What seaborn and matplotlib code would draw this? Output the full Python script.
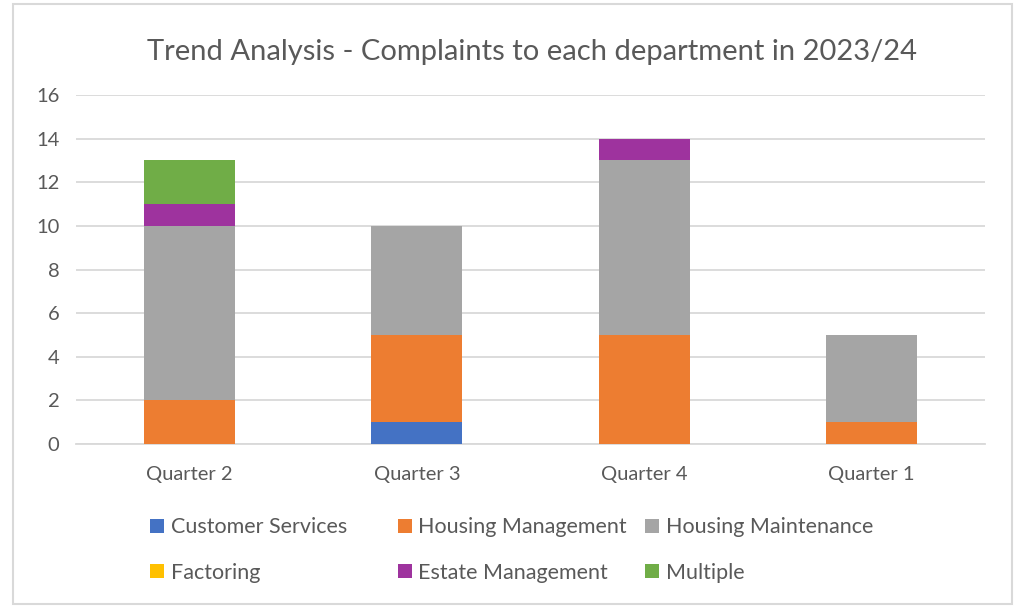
import matplotlib
matplotlib.use('Agg')
import matplotlib.pyplot as plt
import seaborn as sns
import pandas as pd
import numpy as np
from matplotlib.patches import Rectangle
from matplotlib.lines import Line2D

quarters = ['Quarter 2', 'Quarter 3', 'Quarter 4', 'Quarter 1']
departments = ['Customer Services', 'Housing Management', 'Housing Maintenance',
               'Factoring', 'Estate Management', 'Multiple']
customer_services = [0, 1, 0, 0]
housing_management = [2, 4, 5, 1]
housing_maintenance = [8, 5, 8, 4]
factoring = [0, 0, 0, 0]
estate_management = [1, 0, 1, 0]
multiple = [2, 0, 0, 0]
colors = ['#4472C4', '#ED7D31', '#A5A5A5', '#FFC000', '#9E339E', '#70AD47']

series = [customer_services, housing_management, housing_maintenance,
          factoring, estate_management, multiple]
df = pd.DataFrame(dict(zip(departments, series)), index=quarters)
cum = df.cumsum(axis=1)

sns.set_style('white')
plt.rcParams['font.family'] = ['Lato', 'DejaVu Sans']
text_col = '#595959'

fig = plt.figure(figsize=(10.15, 6.06), dpi=100)
ax = fig.add_axes([0.0749, 0.2673, 0.8955, 0.5759])

# draw cumulative totals from the top series down so each layer covers the one above
for dept, col in reversed(list(zip(departments, colors))):
    d = pd.DataFrame({'quarter': quarters, 'value': cum[dept].values})
    sns.barplot(data=d, x='quarter', y='value', color=col, width=0.4,
                linewidth=0, saturation=1, ax=ax, zorder=3)

ax.set_ylim(0, 16)
ax.set_xlim(-0.5, 3.5)
ax.set_yticks(np.arange(0, 17, 2))
ax.grid(axis='y', color='#D9D9D9', linewidth=1.3, zorder=0)
ax.set_axisbelow(True)
for s in ['top', 'right', 'left']:
    ax.spines[s].set_visible(False)
ax.spines['bottom'].set_color('#D9D9D9')
ax.spines['bottom'].set_linewidth(1.3)
ax.set_xlabel('')
ax.set_ylabel('')
ax.tick_params(axis='both', length=0, labelsize=14.5, colors=text_col)
ax.tick_params(axis='x', pad=16)
ax.tick_params(axis='y', pad=12)

fig.text(0.524, 0.914, 'Trend Analysis - Complaints to each department in 2023/24',
         ha='center', va='center', fontsize=21, color=text_col)

# legend laid out as three equal-width columns, rows filled left to right
handles = [Line2D([], [], marker='s', linestyle='', markersize=9.5,
                  markerfacecolor=c, markeredgewidth=0) for c in colors]
col_x = [0.1468, 0.3911, 0.6345]
for j, x in enumerate(col_x):
    idx = [j, j + 3]
    leg = fig.legend([handles[i] for i in idx], [departments[i] for i in idx],
                     loc='center left', bbox_to_anchor=(x, 0.0924), frameon=False,
                     fontsize=15.5, labelcolor=text_col, handletextpad=0.3,
                     labelspacing=1.2, handlelength=0.7, borderpad=0,
                     borderaxespad=0)

fig.patches.append(Rectangle((0.0128, 0.004), 0.984, 0.99, transform=fig.transFigure,
                             fill=False, edgecolor='#D9D9D9', linewidth=1.5))

fig.savefig('out.png', dpi=100)
